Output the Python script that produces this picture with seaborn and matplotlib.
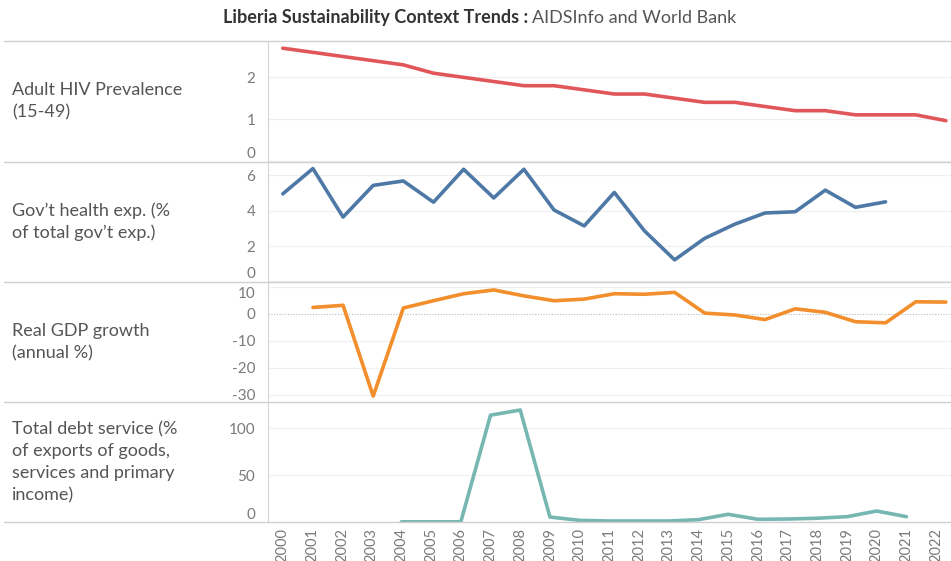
import numpy as np
import pandas as pd
import matplotlib
matplotlib.use('Agg')
import matplotlib.pyplot as plt
import seaborn as sns

sns.set_style('white')
plt.rcParams['font.family'] = ['Lato', 'DejaVu Sans']

# data
years = [2000, 2001, 2002, 2003, 2004, 2005, 2006, 2007, 2008, 2009, 2010, 2011,
         2012, 2013, 2014, 2015, 2016, 2017, 2018, 2019, 2020, 2021, 2022]
hiv = [2.7, 2.6, 2.5, 2.4, 2.3, 2.1, 2.0, 1.9, 1.8, 1.8, 1.7, 1.6,
       1.6, 1.5, 1.4, 1.4, 1.3, 1.2, 1.2, 1.1, 1.1, 1.1, 0.96]
health = [4.95, 6.38, 3.64, 5.43, 5.68, 4.48, 6.34, 4.72, 6.34, 4.04, 3.14, 5.03,
          2.86, 1.22, 2.44, 3.24, 3.87, 3.94, 5.16, 4.19, 4.5, np.nan, np.nan]
gdp = [np.nan, 2.4, 3.2, -30.5, 2.2, 4.9, 7.5, 8.9, 6.7, 4.9, 5.5, 7.5,
       7.3, 8.0, 0.3, -0.4, -2.1, 1.9, 0.6, -2.9, -3.3, 4.5, 4.4]
debt = [np.nan, np.nan, np.nan, np.nan, 0.5, 0.5, 0.5, 114, 119.5, 5.6, 2.1, 1.4,
        1.4, 1.4, 2.8, 8.5, 3.2, 3.5, 4.3, 6.0, 12.0, 6.0, np.nan]

row_labels = ['Adult HIV Prevalence\n(15-49)',
              'Gov\u2019t health exp. (%\nof total gov\u2019t exp.)',
              'Real GDP growth\n(annual %)',
              'Total debt service (%\nof exports of goods,\nservices and primary\nincome)']
series = [hiv, health, gdp, debt]
colors = ['#e15759', '#4e79a7', '#f28e2b', '#76b7b2']
yticks = [[0, 1, 2], [0, 2, 4, 6], [-30, -20, -10, 0, 10], [0, 50, 100]]
ylims = [(-0.02, 2.88), (-0.03, 6.78), (-32.8, 11.85), (0, 127.7)]

W, H = 951, 561
fig = plt.figure(figsize=(W / 100, H / 100), dpi=100)

seps = [40.7, 161.5, 282, 402.3, 522.3]
left = 267.7 / W
txt_col = '#555555'
tick_col = '#7a7a7a'

for i in range(4):
    top, bot = seps[i], seps[i + 1]
    ax = fig.add_axes([left, 1 - bot / H, 1 - left, (bot - top) / H])
    d = pd.DataFrame({'year': years, 'val': series[i]})
    sns.lineplot(data=d, x='year', y='val', ax=ax, color=colors[i], linewidth=2.6)
    ax.set_xlim(1999.5, 2022.17)
    ax.set_ylim(*ylims[i])
    ax.set_yticks(yticks[i])
    ax.set_yticklabels([str(t) for t in yticks[i]])
    ax.set_xlabel('')
    ax.set_ylabel('')
    for s in ['top', 'right', 'bottom']:
        ax.spines[s].set_visible(False)
    ax.spines['left'].set_color('#d4d4d4')
    ax.tick_params(axis='y', length=0, pad=9, labelsize=11, labelcolor=tick_col)
    for t in yticks[i]:
        if t == 0 and i == 2:
            ax.axhline(0, color='#bbbbbb', linewidth=0.8, linestyle=(0, (1, 1.5)), zorder=0)
        else:
            ax.axhline(t, color='#f0f0f0', linewidth=0.9, zorder=0)
    # labels near the panel edges are pushed inside like Tableau does
    labs = ax.get_yticklabels()
    if i in (0, 1, 3):
        labs[0].set_va('bottom')
    if i == 2:
        labs[-1].set_va('top')
    if i < 3:
        ax.set_xticks([])
    else:
        ax.set_xticks(years)
        ax.set_xticklabels([str(y) for y in years], rotation=90, va='top')
        ax.tick_params(axis='x', length=0, pad=4, labelsize=10.5, labelcolor=tick_col)
        ax.set_xticks([y - 0.5 for y in years] + [2022.5], minor=True)
        ax.tick_params(axis='x', which='minor', length=8, width=0.8, color='#e2e2e2')

    fig.text(12 / W, 1 - (top + bot) / 2 / H, row_labels[i], ha='left', va='center',
             fontsize=13, color=txt_col, linespacing=1.45)

# separator lines across the whole width
for y in seps:
    fig.add_artist(plt.Line2D([4 / W, 1], [1 - y / H, 1 - y / H], color='#d0d0d0',
                              linewidth=1, transform=fig.transFigure))

# title: bold part + regular part
fig.text(528 / W, 1 - 18 / H, 'Liberia Sustainability Context Trends :', ha='right',
         va='center', fontsize=13, fontweight='bold', color='#333333')
fig.text(532 / W, 1 - 18 / H, 'AIDSInfo and World Bank', ha='left',
         va='center', fontsize=13, color='#555555')

fig.savefig('out.png', dpi=100)
